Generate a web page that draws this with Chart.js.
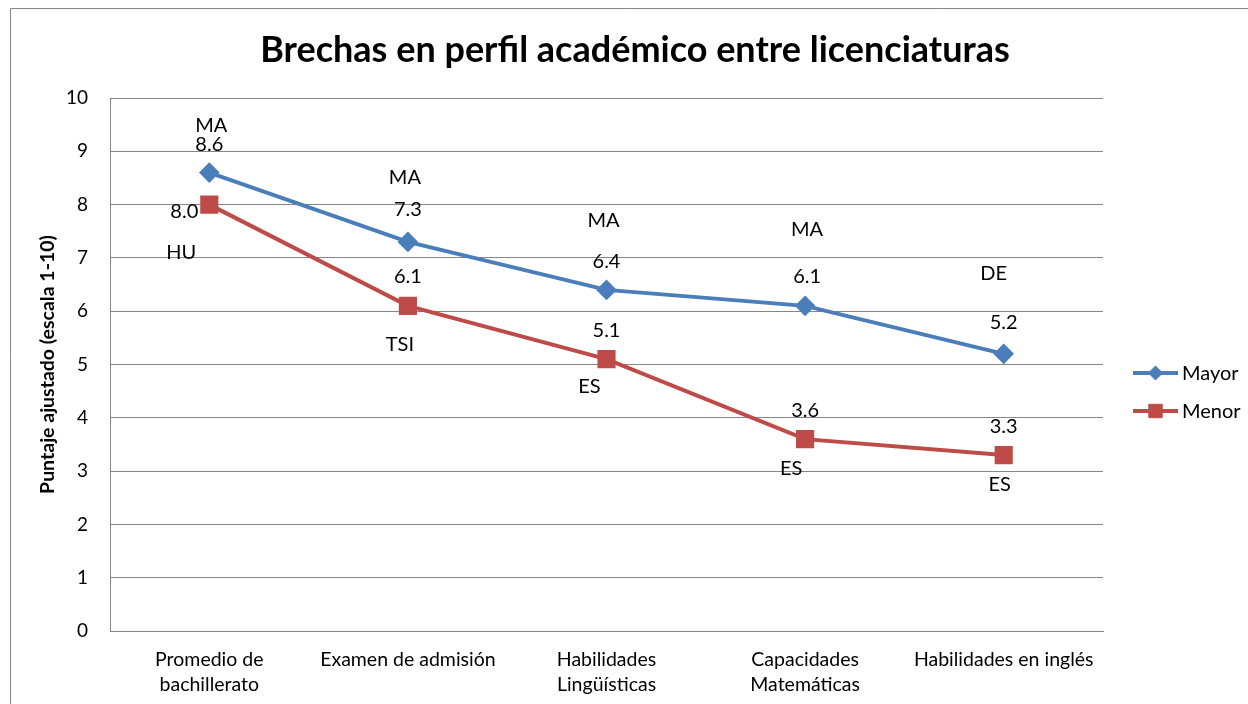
<!DOCTYPE html>
<html>
<head>
<meta charset="utf-8">
<script src="https://cdn.jsdelivr.net/npm/chart.js@4"></script>
<style>
  body { margin: 0; background: #fff; }
  #chart { display: block; }
</style>
</head>
<body>
<canvas id="chart" width="1248" height="704"></canvas>
<script>
// datos del gráfico
const categorias = [
    ['Promedio de', 'bachillerato'],
    'Examen de admisión',
    ['Habilidades', 'Lingüísticas'],
    ['Capacidades', 'Matemáticas'],
    'Habilidades en inglés'
];
const mayor = [8.6, 7.3, 6.4, 6.1, 5.2];
const menor = [8.0, 6.1, 5.1, 3.6, 3.3];
const codigosMayor = ['MA', 'MA', 'MA', 'MA', 'DE'];
const codigosMenor = ['HU', 'TSI', 'ES', 'ES', 'ES'];
const ticksY = [0, 1, 2, 3, 4, 5, 6, 7, 8, 9, 10];

const AZUL = '#4A7EBB';
const ROJO = '#BE4B48';
const GRIS = '#868686';
const FUENTE = 'Lato, "Open Sans", sans-serif';

// desplazamientos de las etiquetas (valor y código) respecto al punto
const posEtiquetas = [
    { valor: [[0, -28], [0, -32], [0, -28], [2, -29], [0, -31]],
      codigo: [[2, -47], [-3, -64], [-3, -69], [2, -76], [-10, -80]] },
    { valor: [[-25, 7], [0, -29], [0, -29], [0, -29], [0, -29]],
      codigo: [[-28, 48], [-8, 39], [-17, 27], [-14, 29], [-4, 29]] }
];
const codigos = [codigosMayor, codigosMenor];

// título, marco, etiquetas y leyenda
const extras = {
    id: 'extras',
    beforeDraw(chart) {
        const ctx = chart.ctx;
        ctx.save();
        ctx.fillStyle = '#fff';
        ctx.fillRect(0, 0, chart.width, chart.height);
        ctx.strokeStyle = GRIS;
        ctx.lineWidth = 1;
        ctx.beginPath();
        ctx.moveTo(10.5, chart.height + 2);
        ctx.lineTo(10.5, 8.5);
        ctx.lineTo(chart.width + 2, 8.5);
        ctx.stroke();
        ctx.fillStyle = '#000';
        ctx.font = 'bold 36px ' + FUENTE;
        ctx.textAlign = 'center';
        ctx.textBaseline = 'middle';
        ctx.fillText('Brechas en perfil académico entre licenciaturas', 635, 50);
        ctx.restore();
    },
    afterDatasetsDraw(chart) {
        const ctx = chart.ctx;
        ctx.save();
        ctx.fillStyle = '#000';
        ctx.font = '20px ' + FUENTE;
        ctx.textAlign = 'center';
        ctx.textBaseline = 'middle';
        chart.data.datasets.forEach((ds, d) => {
            const meta = chart.getDatasetMeta(d);
            meta.data.forEach((pt, i) => {
                const v = posEtiquetas[d].valor[i];
                const c = posEtiquetas[d].codigo[i];
                ctx.fillText(ds.data[i].toFixed(1), pt.x + v[0], pt.y + v[1]);
                ctx.fillText(codigos[d][i], pt.x + c[0], pt.y + c[1]);
            });
        });
        // leyenda
        const filas = [373, 411];
        chart.data.datasets.forEach((ds, d) => {
            const y = filas[d];
            ctx.strokeStyle = ds.borderColor;
            ctx.fillStyle = ds.backgroundColor;
            ctx.lineWidth = 4;
            ctx.beginPath();
            ctx.moveTo(1133, y);
            ctx.lineTo(1178, y);
            ctx.stroke();
            ctx.lineWidth = 1;
            Chart.helpers.drawPoint(ctx, {
                pointStyle: ds.pointStyle,
                radius: d === 0 ? 7 : 9.5,
                borderWidth: 1
            }, 1155.5, y);
            ctx.fillStyle = '#000';
            ctx.font = '20px ' + FUENTE;
            ctx.textAlign = 'left';
            ctx.fillText(ds.label, 1182, y + 1);
        });
        ctx.restore();
    }
};

const config = {
    type: 'line',
    data: {
        labels: categorias,
        datasets: [{
            label: 'Mayor',
            data: mayor,
            borderColor: AZUL,
            backgroundColor: AZUL,
            borderWidth: 4,
            pointStyle: 'rectRot',
            pointRadius: 7.5,
            pointHoverRadius: 7.5,
            tension: 0
        }, {
            label: 'Menor',
            data: menor,
            borderColor: ROJO,
            backgroundColor: ROJO,
            borderWidth: 4,
            pointStyle: 'rect',
            pointRadius: 10,
            pointHoverRadius: 10,
            tension: 0
        }]
    },
    options: {
        responsive: false,
        animation: false,
        layout: { padding: { top: 98, right: 145, left: 0, bottom: 0 } },
        plugins: {
            legend: { display: false },
            title: { display: false },
            tooltip: { enabled: false }
        },
        scales: {
            x: {
                offset: true,
                grid: { display: false, drawTicks: false, offset: true },
                border: { display: true, color: GRIS, width: 1 },
                ticks: {
                    color: '#000',
                    font: { family: FUENTE, size: 19.5, lineHeight: 1.28 },
                    padding: 16,
                    maxRotation: 0,
                    autoSkip: false
                },
                afterFit(scale) { scale.height = 73; }
            },
            y: {
                min: 0,
                max: 10,
                afterBuildTicks(scale) {
                    scale.ticks = ticksY.map(v => ({ value: v }));
                },
                grid: { color: GRIS, lineWidth: 1, drawTicks: false },
                border: { display: true, color: GRIS, width: 1 },
                ticks: {
                    color: '#000',
                    font: { family: FUENTE, size: 19 },
                    padding: 22
                },
                title: {
                    display: true,
                    text: 'Puntaje ajustado (escala 1-10)',
                    color: '#000',
                    font: { family: FUENTE, size: 19.5, weight: 'bold' },
                    padding: { top: 36, bottom: 0 }
                },
                afterFit(scale) { scale.width = 110; }
            }
        }
    },
    plugins: [extras]
};

const chart = new Chart(document.getElementById('chart'), config);
</script>
</body>
</html>
